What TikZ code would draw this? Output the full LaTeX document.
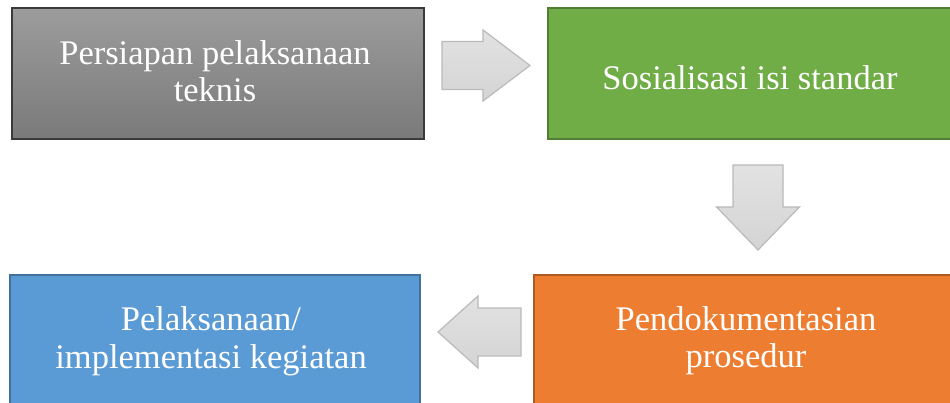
\documentclass[tikz,border=0pt]{standalone}
\usepackage{fontspec}
\setmainfont{Liberation Serif}
\definecolor{grayT}{HTML}{9C9C9C}
\definecolor{grayB}{HTML}{7A7A7A}
\definecolor{grayE}{HTML}{3A3A3A}
\definecolor{greenF}{HTML}{70AD47}
\definecolor{greenE}{HTML}{507E32}
\definecolor{orangeF}{HTML}{ED7D31}
\definecolor{orangeE}{HTML}{AE5A21}
\definecolor{blueF}{HTML}{5B9BD5}
\definecolor{blueE}{HTML}{41719C}
\definecolor{arrF}{HTML}{D4D4D4}
\definecolor{arrT}{HTML}{E2E2E2}
\definecolor{arrE}{HTML}{BABABA}
\begin{document}
\begin{tikzpicture}[x=1pt,y=-1pt,
  box/.style={line width=1.8pt,inner sep=0pt,anchor=north west},
  lbl/.style={text=white,align=center,font=\fontsize{34.5}{37}\selectfont,inner sep=0pt,anchor=base},
  blockarr/.style={draw=arrE,line width=1.2pt,top color=arrT,bottom color=arrF,line join=miter}]
\useasboundingbox (0,0) rectangle (950,403);
\clip (0,0) rectangle (950,403);
% boxes
\node[box,draw=grayE,top color=grayT,bottom color=grayB,minimum width=412pt,minimum height=131pt] (b1) at (11,7) {};
\node[box,draw=greenE,fill=greenF,minimum width=411pt,minimum height=131pt] (b2) at (547,7) {};
\node[box,draw=orangeE,fill=orangeF,minimum width=429pt,minimum height=146pt] (b3) at (533,274) {};
\node[box,draw=blueE,fill=blueF,minimum width=410pt,minimum height=146pt] (b4) at (9,274) {};
% labels (line baselines)
\node[lbl] (p1) at (215,65) {Persiapan pelaksanaan};
\node[lbl] (p1b) at (215,102) {teknis};
\node[lbl] (p2) at (750,90) {Sosialisasi isi standar};
\node[lbl] (p3) at (746,330) {Pendokumentasian};
\node[lbl] (p3b) at (746,367) {prosedur};
\node[lbl] (p4) at (211,330) {Pelaksanaan/};
\node[lbl] (p4b) at (211,368) {implementasi kegiatan};
% block arrows
\draw[blockarr] (442,41.5) -- (483,41.5) -- (483,30) -- (530,65.5) -- (483,101) -- (483,89.5) -- (442,89.5) -- cycle;
\draw[blockarr] (733,165) -- (783,165) -- (783,207) -- (799.5,207) -- (758,250) -- (716.5,207) -- (733,207) -- cycle;
\draw[blockarr] (521,308) -- (478,308) -- (478,296) -- (438,332) -- (478,368) -- (478,356) -- (521,356) -- cycle;
\end{tikzpicture}
\end{document}
